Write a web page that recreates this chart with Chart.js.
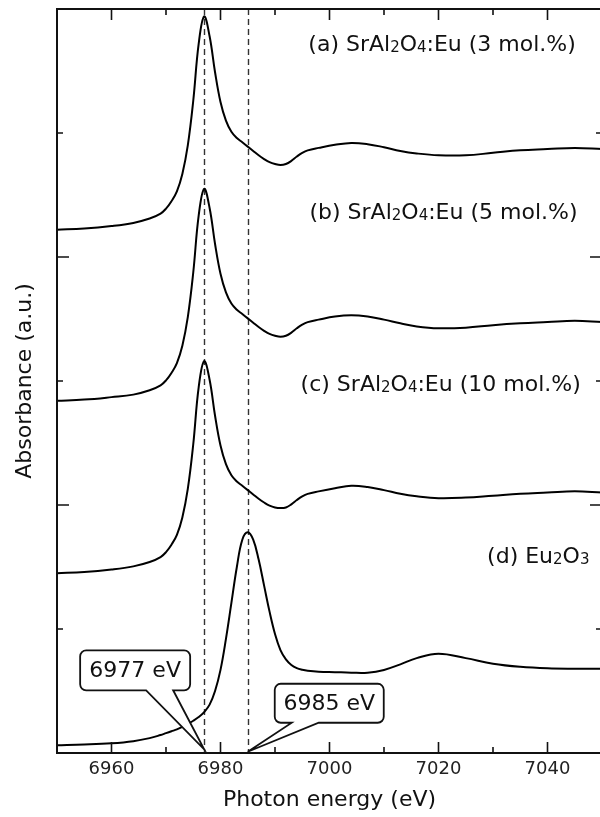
<!DOCTYPE html>
<html>
<head>
<meta charset="utf-8">
<script src="https://cdn.jsdelivr.net/npm/chart.js@4.4.1/dist/chart.umd.min.js"></script>
<style>
  html, body { margin: 0; padding: 0; background: #fff; overflow: hidden; }
  .chart_box { width: 604px; height: 817px; }
</style>
</head>
<body>
<div class="chart_box"><canvas id="myChart"></canvas></div>
<script>
const energy = [6950, 6955, 6960, 6964, 6967, 6969, 6970, 6971, 6972, 6973, 6974, 6975, 6976, 6977, 6978, 6979, 6980, 6981, 6982, 6983, 6984, 6985, 6986, 6987, 6988, 6989, 6990, 6991, 6992, 6993, 6994, 6995, 6996, 6998, 7001, 7004, 7007, 7010, 7013, 7016, 7020, 7025, 7030, 7035, 7040, 7045, 7050];
const sample3 = [4.22, 4.23, 4.25, 4.275, 4.31, 4.35, 4.39, 4.45, 4.53, 4.67, 4.90, 5.26, 5.72, 5.94, 5.78, 5.49, 5.25, 5.10, 5.01, 4.96, 4.925, 4.89, 4.855, 4.82, 4.79, 4.765, 4.75, 4.742, 4.75, 4.775, 4.81, 4.84, 4.86, 4.88, 4.905, 4.92, 4.91, 4.885, 4.855, 4.835, 4.82, 4.82, 4.84, 4.86, 4.87, 4.88, 4.87];
const sample5 = [2.84, 2.85, 2.87, 2.89, 2.925, 2.965, 3.005, 3.065, 3.145, 3.285, 3.515, 3.875, 4.335, 4.55, 4.395, 4.105, 3.865, 3.715, 3.625, 3.575, 3.54, 3.505, 3.47, 3.435, 3.405, 3.38, 3.365, 3.357, 3.365, 3.39, 3.425, 3.455, 3.475, 3.495, 3.52, 3.53, 3.52, 3.495, 3.465, 3.44, 3.425, 3.43, 3.45, 3.465, 3.475, 3.485, 3.475];
const sample10 = [1.45, 1.46, 1.48, 1.505, 1.54, 1.58, 1.62, 1.68, 1.76, 1.90, 2.13, 2.49, 2.95, 3.16, 3.01, 2.72, 2.48, 2.33, 2.24, 2.19, 2.155, 2.12, 2.085, 2.05, 2.02, 1.995, 1.98, 1.975, 1.98, 2.005, 2.04, 2.07, 2.09, 2.11, 2.135, 2.155, 2.145, 2.12, 2.09, 2.07, 2.055, 2.06, 2.075, 2.09, 2.10, 2.11, 2.10];
const eu2o3 = [0.062, 0.068, 0.078, 0.095, 0.12, 0.145, 0.16, 0.175, 0.19, 0.21, 0.235, 0.26, 0.29, 0.33, 0.39, 0.50, 0.67, 0.92, 1.21, 1.50, 1.72, 1.78, 1.72, 1.56, 1.35, 1.14, 0.96, 0.83, 0.755, 0.71, 0.685, 0.672, 0.664, 0.656, 0.652, 0.648, 0.648, 0.67, 0.715, 0.765, 0.80, 0.765, 0.72, 0.695, 0.683, 0.68, 0.68];
const xMajorTicks = [6960, 6980, 7000, 7020, 7040];
const xMinorTicks = [6970, 6990, 7010, 7030];
const yMajorTicks = [2, 4];
const yMinorTicks = [1, 3, 5];
const peakLines = [6977, 6985];
const peakNames = ["6977 eV", "6985 eV"];
// "_n" marks a subscript digit
const curveLabels = ["(a) SrAl_2O_4:Eu (3 mol.%)", "(b) SrAl_2O_4:Eu (5 mol.%)", "(c) SrAl_2O_4:Eu (10 mol.%)", "(d) Eu_2O_3"];

const FONT = "'DejaVu Sans', sans-serif";
const INK = "#111";
const ctx = document.getElementById("myChart").getContext("2d");
Chart.defaults.font.family = FONT;
Chart.defaults.color = INK;

/**
 * Build a dataset for one absorbance curve
 * @param {Array} values - absorbance values matching the energy array
 */
function curve(values) {
  return {
    data: energy.map((x, i) => ({ x: x, y: values[i] })),
    borderColor: "#000",
    borderWidth: 2,
    pointRadius: 0,
    fill: false,
    tension: 0.4,
  };
}

/**
 * Draw a label right aligned, with "_d" parts as small subscripts
 */
function drawRich(c, text, right, baseY, size) {
  const parts = text.split(/_(\d)/);
  const big = size + "px " + FONT;
  const small = Math.round(size * 0.68) + "px " + FONT;
  let total = 0;
  parts.forEach((p, i) => {
    c.font = i % 2 ? small : big;
    total += c.measureText(p).width;
  });
  let x = right - total;
  c.textAlign = "left";
  c.textBaseline = "alphabetic";
  parts.forEach((p, i) => {
    c.font = i % 2 ? small : big;
    c.fillText(p, x, baseY + (i % 2 ? 1 : 0));
    x += c.measureText(p).width;
  });
}

/**
 * Rounded box with a wedge pointing at the tip
 */
function callout(c, box, base1, base2, tip, label) {
  const r = 6;
  const { l, t, rt, b } = box;
  c.beginPath();
  c.moveTo(l + r, t);
  c.lineTo(rt - r, t);
  c.arcTo(rt, t, rt, t + r, r);
  c.lineTo(rt, b - r);
  c.arcTo(rt, b, rt - r, b, r);
  c.lineTo(Math.max(base1, base2), b);
  c.lineTo(tip.x, tip.y);
  c.lineTo(Math.min(base1, base2), b);
  c.lineTo(l + r, b);
  c.arcTo(l, b, l, b - r, r);
  c.lineTo(l, t + r);
  c.arcTo(l, t, l + r, t, r);
  c.closePath();
  c.fillStyle = "#fff";
  c.fill();
  c.lineWidth = 1.8;
  c.strokeStyle = INK;
  c.stroke();
  c.fillStyle = INK;
  c.font = "22px " + FONT;
  c.textAlign = "center";
  c.textBaseline = "middle";
  c.fillText(label, (l + rt) / 2, (t + b) / 2 + 1);
}

const dashedLines = {
  id: "dashedLines",
  beforeDatasetsDraw(chart) {
    const { ctx: c, chartArea: a, scales } = chart;
    c.save();
    c.strokeStyle = "#333";
    c.lineWidth = 1.4;
    c.setLineDash([6, 4]);
    peakLines.forEach((v) => {
      const x = Math.round(scales.x.getPixelForValue(v)) + 0.5;
      c.beginPath();
      c.moveTo(x, a.top);
      c.lineTo(x, a.bottom);
      c.stroke();
    });
    c.restore();
  },
};

const frameAndText = {
  id: "frameAndText",
  afterDatasetsDraw(chart) {
    const { ctx: c, chartArea: a, scales } = chart;
    const xs = scales.x;
    const ys = scales.y;
    c.save();

    // curve labels
    c.fillStyle = INK;
    const anchors = [
      { x: 7045.2, y: 5.66 },
      { x: 7045.5, y: 4.31 },
      { x: 7046.1, y: 2.92 },
      { x: 7047.7, y: 1.53 },
    ];
    curveLabels.forEach((txt, i) => {
      drawRich(c, txt, xs.getPixelForValue(anchors[i].x), ys.getPixelForValue(anchors[i].y), 22);
    });

    // peak callouts
    const t1 = { x: xs.getPixelForValue(peakLines[0]), y: ys.getPixelForValue(0.03) };
    callout(c, { l: t1.x - 124, t: t1.y - 99, rt: t1.x - 14, b: t1.y - 59 }, t1.x - 58, t1.x - 31, t1, peakNames[0]);
    const t2 = { x: xs.getPixelForValue(peakLines[1]), y: ys.getPixelForValue(0.01) };
    callout(c, { l: t2.x + 27, t: t2.y - 68, rt: t2.x + 136, b: t2.y - 29 }, t2.x + 44, t2.x + 71, t2, peakNames[1]);

    // frame
    c.strokeStyle = INK;
    c.lineWidth = 2;
    c.strokeRect(a.left, a.top, a.right - a.left, a.bottom - a.top);

    // inward ticks on all four sides
    c.lineWidth = 1.6;
    c.beginPath();
    const xTick = (v, len) => {
      const x = xs.getPixelForValue(v);
      c.moveTo(x, a.bottom);
      c.lineTo(x, a.bottom - len);
      c.moveTo(x, a.top);
      c.lineTo(x, a.top + len);
    };
    const yTick = (v, len) => {
      const y = ys.getPixelForValue(v);
      c.moveTo(a.left, y);
      c.lineTo(a.left + len, y);
      c.moveTo(a.right, y);
      c.lineTo(a.right - len, y);
    };
    xMajorTicks.forEach((v) => xTick(v, 11));
    xMinorTicks.forEach((v) => xTick(v, 6));
    yMajorTicks.forEach((v) => yTick(v, 12));
    yMinorTicks.forEach((v) => yTick(v, 6));
    c.stroke();
    c.restore();
  },
};

const chart = new Chart(ctx, {
  type: "line",
  data: {
    datasets: [curve(sample3), curve(sample5), curve(sample10), curve(eu2o3)],
  },
  options: {
    responsive: true,
    maintainAspectRatio: false,
    animation: false,
    layout: { padding: { top: 9, right: 2, left: 0, bottom: 0 } },
    plugins: {
      legend: { display: false },
      tooltip: { enabled: false },
    },
    scales: {
      x: {
        type: "linear",
        min: 6950,
        max: 7050,
        afterFit: (s) => {
          s.height = 64;
        },
        afterBuildTicks: (s) => {
          s.ticks = xMajorTicks.map((v) => ({ value: v }));
        },
        grid: { display: false, drawTicks: false },
        border: { display: false },
        ticks: {
          font: { size: 18 },
          color: "#222",
          padding: 6,
          maxRotation: 0,
          autoSkip: false,
          callback: (v) => String(v),
        },
        title: {
          display: true,
          text: "Photon energy (eV)",
          font: { size: 22 },
          color: INK,
          padding: { top: 0, bottom: 4 },
        },
      },
      y: {
        min: 0,
        max: 6,
        afterFit: (s) => {
          s.width = 57;
        },
        grid: { display: false, drawTicks: false },
        border: { display: false },
        ticks: { display: false },
        title: {
          display: true,
          text: "Absorbance (a.u.)",
          font: { size: 22 },
          color: INK,
          padding: { top: 12, bottom: 0 },
        },
      },
    },
  },
  plugins: [dashedLines, frameAndText],
});
</script>
</body>
</html>
